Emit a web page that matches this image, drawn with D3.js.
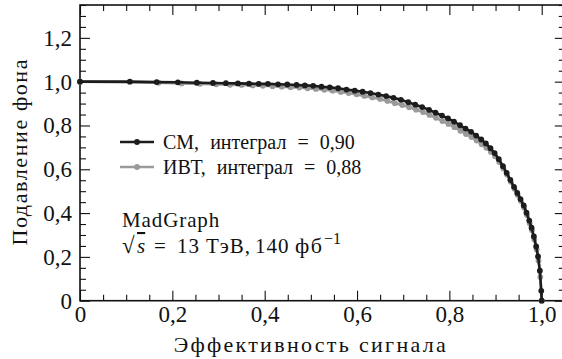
<!DOCTYPE html>
<html>
<head>
<meta charset="utf-8">
<script src="https://cdn.jsdelivr.net/npm/d3@7"></script>
<style>
  body { margin: 0; background: #fff; }
  svg { display: block; }
</style>
</head>
<body>
<div id="chart"></div>
<script>
// signal efficiency vs background rejection
const smX = [0, 0.108, 0.166, 0.212, 0.253, 0.288, 0.316, 0.342, 0.366, 0.387, 0.407, 0.429, 0.449, 0.469, 0.487,
  0.505, 0.523, 0.541, 0.559, 0.577, 0.595, 0.612, 0.629, 0.646, 0.663, 0.679, 0.695, 0.711, 0.726, 0.741,
  0.756, 0.770, 0.784, 0.797, 0.810, 0.823, 0.835, 0.847, 0.858, 0.869, 0.879, 0.889, 0.898, 0.907, 0.916,
  0.924, 0.932, 0.940, 0.947, 0.954, 0.961, 0.967, 0.973, 0.978, 0.983, 0.988, 0.992, 0.996, 0.999, 1.0];
const smY = [1.0, 1.0, 0.998, 0.997, 0.995, 0.994, 0.993, 0.992, 0.991, 0.990, 0.990, 0.988, 0.987, 0.985, 0.983,
  0.981, 0.977, 0.974, 0.970, 0.964, 0.959, 0.954, 0.948, 0.941, 0.934, 0.926, 0.917, 0.906, 0.895, 0.884,
  0.871, 0.858, 0.845, 0.832, 0.817, 0.801, 0.786, 0.771, 0.754, 0.736, 0.718, 0.696, 0.674, 0.646, 0.614,
  0.584, 0.552, 0.520, 0.492, 0.464, 0.435, 0.402, 0.366, 0.333, 0.293, 0.248, 0.202, 0.137, 0.045, 0.0];

const ivtX = [0, 0.17, 0.22, 0.26, 0.295, 0.325, 0.35, 0.374, 0.396, 0.417, 0.437, 0.456, 0.475, 0.493, 0.511,
  0.529, 0.547, 0.565, 0.582, 0.599, 0.616, 0.633, 0.650, 0.666, 0.682, 0.698, 0.713, 0.728, 0.743, 0.757,
  0.771, 0.785, 0.798, 0.811, 0.824, 0.836, 0.848, 0.859, 0.870, 0.880, 0.890, 0.899, 0.908, 0.917, 0.925,
  0.933, 0.941, 0.948, 0.955, 0.962, 0.968, 0.974, 0.979, 0.984, 0.989, 0.993, 0.997, 1.0];
const ivtY = [1.0, 0.995, 0.992, 0.990, 0.988, 0.986, 0.985, 0.983, 0.981, 0.979, 0.977, 0.975, 0.973, 0.970, 0.967,
  0.963, 0.959, 0.953, 0.948, 0.942, 0.935, 0.928, 0.921, 0.912, 0.902, 0.893, 0.883, 0.872, 0.861, 0.848,
  0.835, 0.820, 0.807, 0.792, 0.776, 0.761, 0.747, 0.731, 0.714, 0.698, 0.679, 0.660, 0.633, 0.604, 0.575,
  0.543, 0.511, 0.483, 0.455, 0.424, 0.391, 0.354, 0.322, 0.279, 0.234, 0.183, 0.108, 0.0];

const seriesLabels = [["СМ,", "интеграл", "=", "0,90"], ["ИВТ,", "интеграл", "=", "0,88"]];
const seriesColors = ["#1c1c1c", "#9a9a9a"];

const xMajor = [0, 0.2, 0.4, 0.6, 0.8, 1.0];
const yMajor = [0, 0.2, 0.4, 0.6, 0.8, 1.0, 1.2];
const fmt = v => v === 0 ? "0" : v.toFixed(1).replace(".", ",");

const SERIF = "'Liberation Serif', 'DejaVu Serif', serif";
const width = 562, height = 359;
const margin = { top: 5, left: 80 };
const innerW = 484.8, innerH = 295.7;

const svg = d3.select("#chart").append("svg")
  .attr("width", width).attr("height", height)
  .attr("font-family", SERIF);
const g = svg.append("g").attr("transform", `translate(${margin.left},${margin.top})`);

const x = d3.scaleLinear().domain([0, 1.05]).range([0, innerW]);
const y = d3.scaleLinear().domain([0, 1.35]).range([innerH, 0]);

const minor = (lo, hi) => d3.range(lo, hi + 1e-9, 0.05).filter(v => Math.abs(v * 5 - Math.round(v * 5)) > 1e-6);
const xMinor = minor(0, 1.05), yMinor = minor(0, 1.35);

// ticks pointing inward on all four sides
function styleAxis(sel) {
  sel.attr("font-family", SERIF);
  sel.select(".domain").remove();
  sel.selectAll("line").attr("stroke", "#111").attr("stroke-width", 1.1);
  sel.selectAll("text").style("font-family", SERIF).style("font-size", "23px").attr("fill", "#111");
}
g.append("g").attr("transform", `translate(0,${innerH})`)
  .call(d3.axisBottom(x).tickValues(xMajor).tickSize(-10).tickPadding(5).tickFormat(fmt)).call(styleAxis);
g.append("g").attr("transform", `translate(0,${innerH})`)
  .call(d3.axisBottom(x).tickValues(xMinor).tickSize(-6).tickFormat("")).call(styleAxis);
g.append("g")
  .call(d3.axisTop(x).tickValues(xMajor).tickSize(-10).tickFormat("")).call(styleAxis);
g.append("g")
  .call(d3.axisTop(x).tickValues(xMinor).tickSize(-6).tickFormat("")).call(styleAxis);
g.append("g")
  .call(d3.axisLeft(y).tickValues(yMajor).tickSize(-10).tickPadding(8).tickFormat(fmt)).call(styleAxis);
g.append("g")
  .call(d3.axisLeft(y).tickValues(yMinor).tickSize(-6).tickFormat("")).call(styleAxis);
g.append("g").attr("transform", `translate(${innerW},0)`)
  .call(d3.axisRight(y).tickValues(yMajor).tickSize(-10).tickFormat("")).call(styleAxis);
g.append("g").attr("transform", `translate(${innerW},0)`)
  .call(d3.axisRight(y).tickValues(yMinor).tickSize(-6).tickFormat("")).call(styleAxis);

g.append("rect")
  .attr("width", innerW).attr("height", innerH)
  .attr("fill", "none").attr("stroke", "#111").attr("stroke-width", 1.6);

// curves, gray underneath
const series = [
  { xs: ivtX, ys: ivtY, color: seriesColors[1] },
  { xs: smX, ys: smY, color: seriesColors[0] }
];
const line = d3.line().x(d => x(d[0])).y(d => y(d[1]));
series.forEach(s => {
  const pts = s.xs.map((v, i) => [v, s.ys[i]]);
  g.append("path").datum(pts)
    .attr("d", line).attr("fill", "none")
    .attr("stroke", s.color).attr("stroke-width", 2.6);
  g.append("g").selectAll("circle").data(pts).join("circle")
    .attr("cx", d => x(d[0])).attr("cy", d => y(d[1]))
    .attr("r", 2.9).attr("fill", s.color);
});

// legend
const legend = g.append("g").attr("transform", "translate(40,137)");
seriesLabels.forEach((parts, i) => {
  const row = legend.append("g").attr("transform", `translate(0,${i * 25})`);
  row.append("line").attr("x1", 0).attr("x2", 34)
    .attr("stroke", seriesColors[i]).attr("stroke-width", 2.6);
  row.append("circle").attr("cx", 17).attr("r", 2.9).attr("fill", seriesColors[i]);
  const t = row.append("text").attr("x", 43).attr("dy", "0.35em")
    .style("font-family", SERIF).style("font-size", "20px").attr("fill", "#111");
  t.append("tspan").text(parts[0]);
  t.append("tspan").attr("dx", 11).text(parts[1]);
  t.append("tspan").attr("dx", 11).text(parts[2]);
  t.append("tspan").attr("dx", 11).text(parts[3]);
});

// annotation
const note = g.append("g").attr("transform", "translate(42,222)")
  .style("font-family", SERIF).style("font-size", "21px").attr("fill", "#111");
note.append("text").attr("letter-spacing", 0.9).text("MadGraph");
const t2 = note.append("text").attr("y", 26);
t2.append("tspan").attr("x", 0).style("font-size", "23px").text("√");
t2.append("tspan").attr("x", 15).style("font-style", "italic").style("text-decoration", "overline").text("s");
t2.append("tspan").attr("x", 32).text("=");
t2.append("tspan").attr("x", 55).style("letter-spacing", "1px").text("13");
t2.append("tspan").attr("x", 84).style("letter-spacing", "1px").text("ТэВ,");
t2.append("tspan").attr("x", 133).style("letter-spacing", "1px").text("140");
t2.append("tspan").attr("x", 173).style("font-size", "22px").style("letter-spacing", "1.5px").text("фб");
t2.append("tspan").attr("x", 202).attr("dy", -9).style("font-size", "16px").text("−1");

// axis titles
svg.append("text")
  .attr("x", margin.left + x(0.5)).attr("y", 352)
  .attr("text-anchor", "middle").style("font-family", SERIF).style("font-size", "22px")
  .attr("letter-spacing", 2.3).attr("fill", "#111")
  .text("Эффективность сигнала");
svg.append("text")
  .attr("transform", `translate(27,${margin.top + y(0.68)}) rotate(-90)`)
  .attr("text-anchor", "middle").style("font-family", SERIF).style("font-size", "22px")
  .attr("letter-spacing", 1.6).attr("fill", "#111")
  .text("Подавление фона");
</script>
</body>
</html>
